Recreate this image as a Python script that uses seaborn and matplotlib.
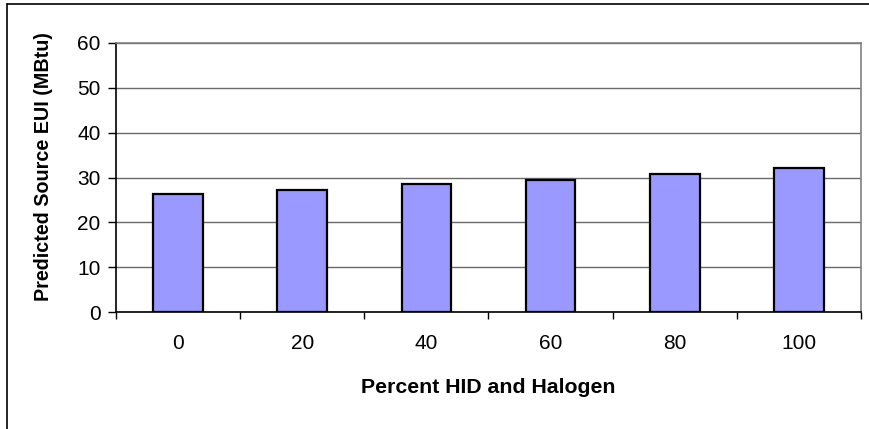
import matplotlib
matplotlib.use("Agg")
import matplotlib.pyplot as plt
import seaborn as sns
import pandas as pd
from matplotlib.lines import Line2D
from matplotlib.ticker import FixedLocator

categories = ["0", "20", "40", "60", "80", "100"]
values = [26.3, 27.2, 28.6, 29.5, 30.8, 32.1]
y_ticks = [0, 10, 20, 30, 40, 50, 60]

sns.set_theme(style="white")
plt.rcParams["font.family"] = ["Liberation Sans", "DejaVu Sans"]

df = pd.DataFrame({"pct": categories, "eui": values})

W, H = 870, 429
fig = plt.figure(figsize=(W / 100, H / 100), dpi=100)
ax = fig.add_axes([116 / W, 1 - 312 / H, (861 - 116) / W, (312 - 43) / H])

sns.barplot(data=df, x="pct", y="eui", order=categories, color="#9999FF",
            saturation=1, width=0.4, edgecolor="black", linewidth=1.6, ax=ax, zorder=3)

ax.set_ylim(0, 60)
ax.set_xlim(-0.5, len(categories) - 0.5)
ax.set_yticks(y_ticks)
ax.set_yticklabels([str(t) for t in y_ticks])
ax.yaxis.grid(True, color="#6a6a6a", linewidth=1.0, zorder=0)
ax.set_axisbelow(True)

ax.xaxis.set_minor_locator(FixedLocator([i - 0.5 for i in range(len(categories) + 1)]))
ax.tick_params(axis="x", which="major", length=0, pad=16, labelsize=15, colors="black")
ax.tick_params(axis="x", which="minor", length=5, width=1, color="black", bottom=True, direction="out")
ax.tick_params(axis="y", which="major", length=6, width=1, color="black", left=True,
               direction="out", pad=5, labelsize=15, labelcolor="black")

for s in ["left", "bottom"]:
    ax.spines[s].set_color("black")
    ax.spines[s].set_linewidth(1.2)
for s in ["top", "right"]:
    ax.spines[s].set_visible(True)
    ax.spines[s].set_color("#808080")
    ax.spines[s].set_linewidth(1.2)

ax.set_xlabel("Percent HID and Halogen", fontsize=15.3, fontweight="bold", color="black")
ax.set_ylabel("Predicted Source EUI (MBtu)", fontsize=14.2, fontweight="bold", color="black")
ax.xaxis.set_label_coords(0.5, -0.245)
ax.yaxis.set_label_coords(-0.085, 0.54)

fig.add_artist(Line2D([7.5 / W, 7.5 / W], [0, 1 - 3.5 / H], transform=fig.transFigure,
                      color="black", linewidth=1.2))
fig.add_artist(Line2D([7.5 / W, 1], [1 - 3.5 / H, 1 - 3.5 / H], transform=fig.transFigure,
                      color="black", linewidth=1.2))

fig.savefig("out.png", dpi=100)
